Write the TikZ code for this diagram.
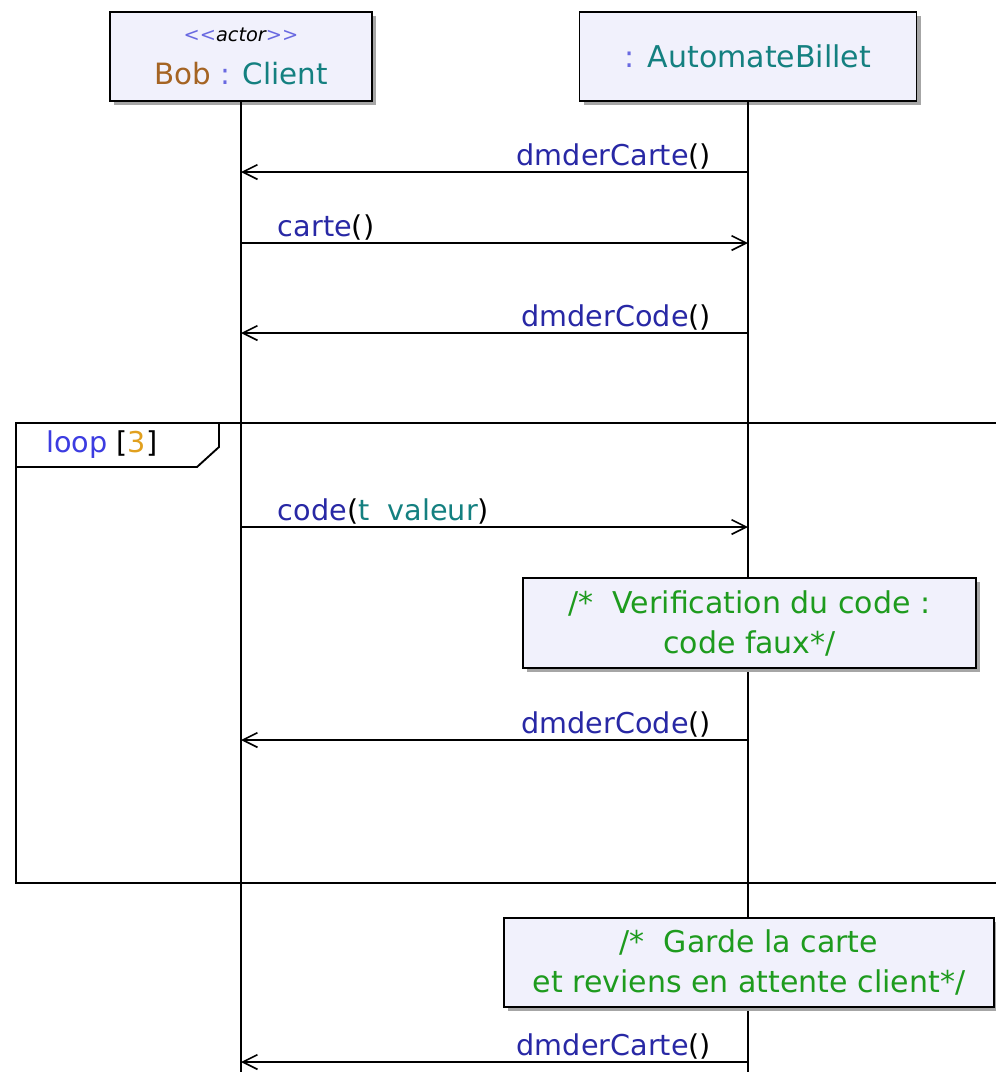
\documentclass[tikz,border=0pt]{standalone}
\usepackage{fontspec}
\setmainfont{DejaVu Sans}
\usetikzlibrary{arrows.meta,shadows}

\definecolor{opblue}{RGB}{40,40,165}
\definecolor{typeteal}{RGB}{20,128,128}
\definecolor{objbrown}{RGB}{165,100,35}
\definecolor{sepviolet}{RGB}{105,105,225}
\definecolor{loopblue}{RGB}{60,60,225}
\definecolor{countorange}{RGB}{225,160,30}
\definecolor{notegreen}{RGB}{30,155,30}
\definecolor{boxfill}{RGB}{241,241,252}

\tikzset{
  objbox/.style={draw, line width=1.4pt, fill=boxfill, inner sep=0pt, align=center,
    drop shadow={shadow xshift=3pt, shadow yshift=-3pt, fill=black!35, opacity=1}},
  notebox/.style={objbox, text=notegreen, font=\fontsize{22.5}{30}\selectfont},
  lifeline/.style={line width=1.4pt},
  msg/.style={line width=1.4pt, -{Straight Barb[length=11pt,width=11pt,line width=1.2pt]}},
  lbl/.style={font=\fontsize{21.5}{24}\selectfont, inner sep=0pt},
  frame/.style={line width=1.4pt},
}

\begin{document}
\begin{tikzpicture}[x=0.75pt, y=-0.75pt]
  \useasboundingbox (0,0) rectangle (996,1072);

  % participants
  \node[objbox, minimum width=196.5pt, minimum height=66.75pt] (bob) at (241,56.5)
    {{\fontsize{14.5}{15}\selectfont\color{sepviolet}{<}{<}\textit{\color{black}actor}{>}{>}}\\[14pt]
     {\fontsize{22}{24}\selectfont\color{objbrown}Bob \color{sepviolet}: \color{typeteal}Client}};
  \node[objbox, minimum width=252.75pt, minimum height=66.75pt] (auto) at (748,56.5)
    {\fontsize{22.5}{24}\selectfont\color{sepviolet}: \color{typeteal}AutomateBillet};

  \coordinate (bobend) at (241,1072);
  \coordinate (autoend) at (748,1072);
  \draw[lifeline] (bob.south) -- (bobend);
  \draw[lifeline] (auto.south) -- (autoend);

  % message ends
  \coordinate (b1) at (241,172);  \coordinate (a1) at (748,172);
  \coordinate (b2) at (241,243);  \coordinate (a2) at (748,243);
  \coordinate (b3) at (241,333);  \coordinate (a3) at (748,333);
  \coordinate (b4) at (241,527);  \coordinate (a4) at (748,527);
  \coordinate (b5) at (241,740);  \coordinate (a5) at (748,740);
  \coordinate (b6) at (241,1062); \coordinate (a6) at (748,1062);

  % loop fragment
  \coordinate (fnw) at (16,423);
  \coordinate (fse) at (1002,883);
  \draw[frame] (fnw) rectangle (fse);
  \draw[frame, fill=white] (fnw) -- (219,423) -- (219,447) -- (197,467) -- (16,467) -- cycle;
  \node[lbl, anchor=west, font=\fontsize{21.5}{24}\selectfont] (looplbl) at (46,445)
    {\color{loopblue}loop \color{black}[\color{countorange}3\color{black}]};

  % messages
  \draw[msg] (a1) -- (b1) node[lbl, pos=0, anchor=base east, xshift=-27pt, yshift=5pt]
    {\color{opblue}dmderCarte\color{black}()};
  \draw[msg] (b2) -- (a2) node[lbl, pos=0, anchor=base west, xshift=27pt, yshift=5pt]
    {\color{opblue}carte\color{black}()};
  \draw[msg] (a3) -- (b3) node[lbl, pos=0, anchor=base east, xshift=-27pt, yshift=5pt]
    {\color{opblue}dmderCode\color{black}()};
  \draw[msg] (b4) -- (a4) node[lbl, pos=0, anchor=base west, xshift=27pt, yshift=5pt]
    {\color{opblue}code\color{black}(\color{typeteal}t\ \ valeur\color{black})};
  \draw[msg] (a5) -- (b5) node[lbl, pos=0, anchor=base east, xshift=-27pt, yshift=5pt]
    {\color{opblue}dmderCode\color{black}()};
  \draw[msg] (a6) -- (b6) node[lbl, pos=0, anchor=base east, xshift=-27pt, yshift=5pt]
    {\color{opblue}dmderCarte\color{black}()};

  % notes
  \node[notebox, minimum width=339.75pt, minimum height=67.5pt] (verif) at (749.5,623)
    {/*\ \ Verification du code :\\code faux*/};
  \node[notebox, minimum width=367.5pt, minimum height=66.75pt] (garde) at (749,962.5)
    {/*\ \ Garde la carte\\et reviens en attente client*/};
\end{tikzpicture}
\end{document}
